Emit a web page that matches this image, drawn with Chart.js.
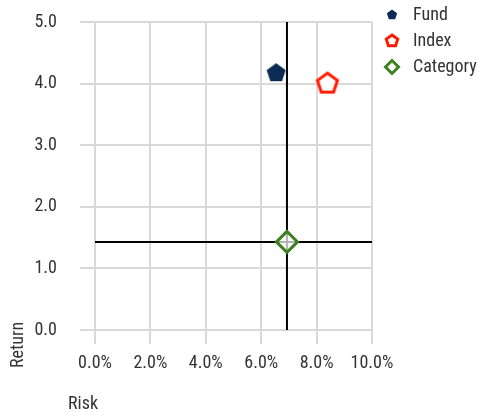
<!DOCTYPE html>
<html>
<head>
<meta charset="utf-8">
<script src="https://cdn.jsdelivr.net/npm/chart.js@4"></script>
<style>
  html, body { margin: 0; padding: 0; background: #fff; }
</style>
</head>
<body>
<canvas id="myChart" width="478" height="412"></canvas>
<script>
// data
const seriesNames = ['Fund', 'Index', 'Category'];
const riskValues = [6.54, 8.39, 6.93];     // x, percent
const returnValues = [4.17, 4.0, 1.43];    // y
const xTicks = [0, 2, 4, 6, 8, 10];
const yTicks = [0, 1, 2, 3, 4, 5];
const xTitle = 'Risk';
const yTitle = 'Return';

const FONT = "'Liberation Sans Narrow', 'Roboto Condensed', Roboto, sans-serif";
const navy = '#0b2b52';
const red = '#ff1a00';
const green = '#3f7f22';

// small canvases used as point styles
function pentagon(r, fill, stroke, lw) {
  const size = 2 * Math.ceil(r + lw + 2);
  const c = document.createElement('canvas');
  c.width = c.height = size;
  const g = c.getContext('2d');
  g.beginPath();
  for (let i = 0; i < 5; i++) {
    const a = -Math.PI / 2 + i * 2 * Math.PI / 5;
    const px = size / 2 + r * Math.cos(a);
    const py = size / 2 + r * Math.sin(a);
    if (i) g.lineTo(px, py); else g.moveTo(px, py);
  }
  g.closePath();
  g.fillStyle = fill;
  g.fill();
  if (lw) {
    g.lineWidth = lw;
    g.strokeStyle = stroke;
    g.stroke();
  }
  return c;
}

function diamond(r, fill, stroke, lw) {
  const size = 2 * Math.ceil(r + lw + 2);
  const c = document.createElement('canvas');
  c.width = c.height = size;
  const g = c.getContext('2d');
  const m = size / 2;
  g.beginPath();
  g.moveTo(m, m - r);
  g.lineTo(m + r, m);
  g.lineTo(m, m + r);
  g.lineTo(m - r, m);
  g.closePath();
  g.fillStyle = fill;
  g.fill();
  g.lineWidth = lw;
  g.strokeStyle = stroke;
  g.stroke();
  return c;
}

const fundMark = pentagon(10, navy, navy, 0);
const indexMark = pentagon(10.5, '#fff', red, 3);
const legendMarks = [
  pentagon(5.4, navy, navy, 0),
  pentagon(6, '#fff', red, 3),
  diamond(6.5, '#fff', green, 3)
];

const catX = riskValues[2];
const catY = returnValues[2];

// axis titles sit outside the usual title slots
const axisTitles = {
  id: 'axisTitles',
  afterDraw(chart) {
    const c = chart.ctx;
    c.save();
    c.fillStyle = '#333';
    c.font = '18px ' + FONT;
    c.textBaseline = 'middle';
    c.textAlign = 'left';
    c.fillText(xTitle, 68, 404);
    c.translate(18, 345);
    c.rotate(-Math.PI / 2);
    c.textAlign = 'center';
    c.fillText(yTitle, 0, 0);
    c.restore();
  }
};

const ctx = document.getElementById('myChart');

new Chart(ctx, {
  type: 'scatter',
  data: {
    datasets: [
      {
        label: seriesNames[0],
        data: [{x: riskValues[0], y: returnValues[0]}],
        pointStyle: fundMark,
        pointRadius: 10,
        backgroundColor: navy,
        borderColor: navy
      },
      {
        label: seriesNames[1],
        data: [{x: riskValues[1], y: returnValues[1]}],
        pointStyle: indexMark,
        pointRadius: 11,
        backgroundColor: '#fff',
        borderColor: red
      },
      {
        label: seriesNames[2],
        data: [{x: catX, y: catY}],
        pointStyle: 'rectRot',
        pointRadius: 10.5,
        borderWidth: 3,
        backgroundColor: 'rgba(255,255,255,0.7)',
        borderColor: green
      },
      {
        label: 'v',
        data: [{x: catX, y: yTicks[0]}, {x: catX, y: yTicks[yTicks.length - 1]}],
        showLine: true,
        pointRadius: 0,
        borderColor: '#000',
        borderWidth: 2
      },
      {
        label: 'h',
        data: [{x: xTicks[0], y: catY}, {x: xTicks[xTicks.length - 1], y: catY}],
        showLine: true,
        pointRadius: 0,
        borderColor: '#000',
        borderWidth: 2
      }
    ]
  },
  options: {
    responsive: false,
    animation: false,
    devicePixelRatio: 1,
    layout: { padding: { top: -2, left: 0, right: 0, bottom: 0 } },
    scales: {
      x: {
        min: xTicks[0],
        max: xTicks[xTicks.length - 1],
        afterFit: s => { s.height = 82; },
        border: { display: false },
        grid: { color: '#d9d9d9', lineWidth: 2, tickLength: 14 },
        ticks: {
          stepSize: 2,
          padding: 9,
          color: '#333',
          font: { family: FONT, size: 18 },
          callback: v => v.toFixed(1) + '%'
        }
      },
      y: {
        min: yTicks[0],
        max: yTicks[yTicks.length - 1],
        afterFit: s => { s.width = 95; s.paddingTop = 22; },
        border: { display: false },
        grid: { color: '#d9d9d9', lineWidth: 2, tickLength: 15 },
        ticks: {
          stepSize: 1,
          padding: 23,
          color: '#333',
          font: { family: FONT, size: 18 },
          callback: v => v.toFixed(1)
        }
      }
    },
    plugins: {
      tooltip: { enabled: false },
      legend: {
        position: 'right',
        align: 'start',
        maxWidth: 106,
        labels: {
          usePointStyle: true,
          pointStyleWidth: 24,
          padding: 8,
          color: '#333',
          font: { family: FONT, size: 18 },
          filter: item => item.datasetIndex < seriesNames.length,
          generateLabels(chart) {
            const items = Chart.defaults.plugins.legend.labels.generateLabels(chart);
            items.forEach(it => {
              if (legendMarks[it.datasetIndex]) it.pointStyle = legendMarks[it.datasetIndex];
            });
            return items;
          }
        }
      }
    }
  },
  plugins: [axisTitles]
});
</script>
</body>
</html>
